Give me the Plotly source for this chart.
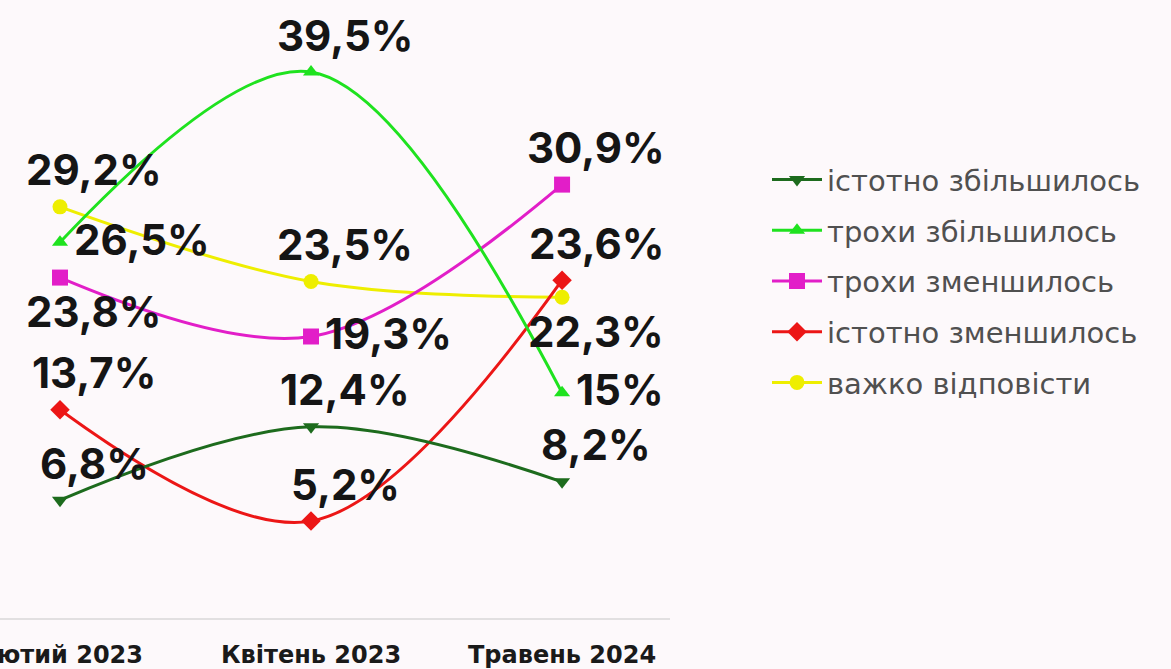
import plotly.graph_objects as go

categories = ["Лютий 2023", "Квітень 2023", "Травень 2024"]
series_names = ["істотно збільшилось", "трохи збільшилось", "трохи зменшилось",
                "істотно зменшилось", "важко відповісти"]
v_sig_up = [6.8, 12.4, 8.2]
v_bit_up = [26.5, 39.5, 15.0]
v_bit_down = [23.8, 19.3, 30.9]
v_sig_down = [13.7, 5.2, 23.6]
v_hard = [29.2, 23.5, 22.3]
values = [v_sig_up, v_bit_up, v_bit_down, v_sig_down, v_hard]

colors = ["#1d6b1d", "#1fe21f", "#e21ec8", "#ec1616", "#eeee00"]
symbols = ["triangle-down", "triangle-up", "square", "diamond", "circle"]
sizes = [14, 14, 16, 15, 15]
label_pos = [["above", "above", "above"],
             ["right", "above", "right"],
             ["below", "right", "above"],
             ["above", "above", "above"],
             ["above", "above", "below"]]

W, H = 1171, 669
LABEL_FONT = dict(family="Inter", size=42, color="#151515", weight="bold")

fig = go.Figure()
# later legend series drawn underneath
for i in reversed(range(len(series_names))):
    fig.add_trace(go.Scatter(
        x=categories, y=values[i], name=series_names[i], mode="lines+markers",
        line=dict(color=colors[i], width=3, shape="spline", smoothing=1.0),
        marker=dict(symbol=symbols[i], size=sizes[i], color=colors[i], line=dict(width=0)),
        legendgroup=str(i), legendrank=i + 1,
    ))

annotations = []
for i in range(len(series_names)):
    for j, v in enumerate(values[i]):
        txt = (f"{v:g}".replace(".", ",")) + "%"
        pos = label_pos[i][j]
        if pos == "above":
            kw = dict(xanchor="center", xshift=34, yshift=37)
        elif pos == "below":
            kw = dict(xanchor="center", xshift=34, yshift=-34)
        else:
            kw = dict(xanchor="left", xshift=12, yshift=3)
        annotations.append(dict(x=categories[j], y=v, xref="x", yref="y", text=txt,
                                showarrow=False, yanchor="middle",
                                font=LABEL_FONT, **kw))

fig.update_layout(
    width=W, height=H,
    margin=dict(l=0, r=0, t=0, b=51, autoexpand=False),
    paper_bgcolor="#fdf9fb", plot_bgcolor="#fdf9fb",
    annotations=annotations,
    showlegend=True,
    legend=dict(x=767 / W, y=1 - 167 / H, xanchor="left", yanchor="top",
                font=dict(family="DejaVu Sans", size=29, color="#505050"),
                tracegroupgap=10, itemwidth=50, bgcolor="rgba(0,0,0,0)"),
    xaxis=dict(domain=[0, 670 / W], range=[-0.239, 2.43], showgrid=False,
               zeroline=False, showline=True, linecolor="#e2e0e1", linewidth=2,
               ticks="", ticklabelstandoff=14, automargin=False,
               tickfont=dict(family="DejaVu Sans", size=24, color="#1a1a1a", weight="bold")),
    yaxis=dict(range=[-2.2, 45.0], visible=False, showgrid=False, zeroline=False,
               automargin=False),
)
fig.write_html("out.html", config={"displayModeBar": False},
               post_script="document.body.style.margin='0';document.body.style.overflow='hidden';")
